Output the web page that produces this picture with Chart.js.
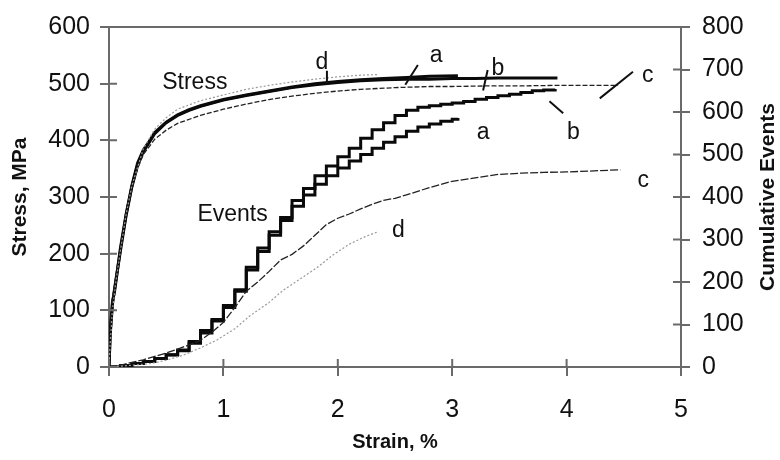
<!DOCTYPE html>
<html>
<head>
<meta charset="utf-8">
<script src="https://cdn.jsdelivr.net/npm/chart.js@4.4.1/dist/chart.umd.min.js"></script>
<style>
  html, body { margin: 0; padding: 0; background: #fff; }
  #wrap { width: 780px; height: 460px; position: relative; }
</style>
</head>
<body>
<div id="wrap"><canvas id="c" width="780" height="460"></canvas></div>
<script>
// ---------- data ----------
const xTicks = [0, 1, 2, 3, 4, 5];
const stressTicks = [0, 100, 200, 300, 400, 500, 600];
const eventTicks = [0, 100, 200, 300, 400, 500, 600, 700, 800];
const xTitle = 'Strain, %';
const yTitle = 'Stress, MPa';
const y2Title = 'Cumulative Events';

// Stress curves (left axis, MPa) vs strain (%)
const strainStressA = [0,0.01,0.03,0.05,0.1,0.15,0.2,0.25,0.3,0.35,0.4,0.5,0.6,0.7,0.8,1.0,1.2,1.4,1.6,1.8,2.0,2.2,2.4,2.6,2.8,3.05];
const stressA       = [0,60,115,135,210,270,320,360,383,398,414,432,445,454,461,472,480,487,494,500,504,507,509,511,513,514];

const strainStressB = [0,0.01,0.03,0.05,0.1,0.15,0.2,0.25,0.3,0.35,0.4,0.5,0.6,0.7,0.8,1.0,1.2,1.4,1.6,1.8,2.0,2.2,2.4,2.6,2.8,3.0,3.2,3.4,3.6,3.8,3.92];
const stressB       = [0,55,110,140,205,268,318,356,380,396,412,431,444,453,460,471,479,486,493,498,502,505,507,508,508,509,509,510,510,510,510];

const strainStressC = [0,0.01,0.03,0.06,0.1,0.15,0.2,0.25,0.3,0.4,0.5,0.6,0.8,1.0,1.2,1.4,1.6,1.8,2.0,2.2,2.5,2.8,3.0,3.3,3.6,3.9,4.2,4.45];
const stressC       = [0,70,120,160,210,270,315,350,375,402,418,430,444,455,464,472,478,483,487,490,493,495,495,496,496,497,497,497];

const strainStressD = [0,0.01,0.03,0.06,0.1,0.15,0.2,0.3,0.4,0.5,0.6,0.8,1.0,1.2,1.4,1.6,1.8,2.0,2.2,2.35];
const stressD       = [0,40,100,150,205,270,320,385,420,440,455,470,480,490,497,503,508,512,515,516];

// Cumulative events (right axis) vs strain (%)
const strainEventsA = [0,0.1,0.2,0.3,0.4,0.5,0.6,0.7,0.8,0.9,1.0,1.1,1.2,1.3,1.4,1.5,1.6,1.7,1.8,1.9,2.0,2.1,2.2,2.3,2.4,2.5,2.6,2.7,2.8,2.9,3.0,3.05];
const eventsA       = [0,3,8,13,20,28,38,56,80,108,140,178,228,272,310,345,378,405,430,450,468,485,500,515,529,542,555,565,572,578,583,586];

const strainEventsB = [0,0.1,0.2,0.3,0.4,0.5,0.6,0.7,0.8,0.9,1.0,1.1,1.2,1.3,1.4,1.5,1.6,1.7,1.8,1.9,2.0,2.1,2.2,2.3,2.4,2.5,2.6,2.7,2.8,2.9,3.0,3.1,3.2,3.3,3.4,3.5,3.6,3.7,3.8,3.9];
const eventsB       = [0,3,8,13,20,29,40,60,86,112,145,182,235,280,318,352,392,420,450,473,495,515,538,558,575,592,604,611,615,618,621,625,630,634,638,642,646,650,652,654];

const strainEventsC = [0,0.1,0.2,0.3,0.4,0.5,0.6,0.7,0.8,0.9,1.0,1.1,1.2,1.3,1.4,1.5,1.6,1.7,1.8,1.9,2.0,2.1,2.2,2.3,2.4,2.5,2.6,2.8,3.0,3.2,3.4,3.6,3.8,4.0,4.2,4.47];
const eventsC       = [0,4,11,17,25,33,42,52,63,82,105,140,178,200,225,252,265,285,310,335,350,360,372,383,392,397,405,422,437,445,453,456,458,459,461,464];

const strainEventsD = [0,0.2,0.36,0.5,0.65,0.8,0.94,1.1,1.23,1.4,1.52,1.67,1.82,1.95,2.1,2.25,2.35];
const eventsD       = [0,4,8,16,28,45,63,90,120,152,180,207,234,262,289,308,318];

// Text labels on the plot: [text, strain, stress-axis value]
const labelTexts   = ['Stress', 'Events', 'd', 'a', 'b', 'c', 'a', 'b', 'c', 'd'];
const labelStrain  = [0.75, 1.08, 1.86, 2.86, 3.40, 4.71, 3.27, 4.06, 4.67, 2.53];
const labelStress  = [502, 269, 537, 549, 526, 514, 413, 414, 329, 240];
// Leader lines: [x1, y1, x2, y2] in strain / stress units
const leaderLines = [
  [1.905, 523, 1.905, 498],
  [2.70, 533, 2.59, 498],
  [3.31, 524, 3.27, 488],
  [4.58, 521, 4.29, 474],
  [3.85, 469, 3.97, 448]
];

// ---------- helpers ----------
const pts = (xs, ys) => xs.map((x, i) => ({ x: x, y: ys[i] }));
const AXIS = '#6a6a6a';
const FONT = "'Liberation Sans', Arial, Helvetica, sans-serif";

const plotPlugin = {
  id: 'plotExtras',
  afterDraw(chart) {
    const { ctx, chartArea: a, scales } = chart;
    const xs = scales.x, yl = scales.y, yr = scales.y2;
    ctx.save();
    ctx.strokeStyle = AXIS;
    ctx.lineWidth = 2;
    // top border
    ctx.beginPath();
    ctx.moveTo(a.left, a.top);
    ctx.lineTo(a.right, a.top);
    ctx.stroke();
    // inner halves of tick marks
    ctx.beginPath();
    xTicks.forEach(v => { const p = xs.getPixelForValue(v); ctx.moveTo(p, a.bottom); ctx.lineTo(p, a.bottom - 8); });
    stressTicks.forEach(v => { const p = yl.getPixelForValue(v); ctx.moveTo(a.left, p); ctx.lineTo(a.left + 8, p); });
    eventTicks.forEach(v => { const p = yr.getPixelForValue(v); ctx.moveTo(a.right, p); ctx.lineTo(a.right - 8, p); });
    ctx.stroke();
    // leader lines
    ctx.strokeStyle = '#111';
    ctx.lineWidth = 2;
    ctx.beginPath();
    leaderLines.forEach(l => {
      ctx.moveTo(xs.getPixelForValue(l[0]), yl.getPixelForValue(l[1]));
      ctx.lineTo(xs.getPixelForValue(l[2]), yl.getPixelForValue(l[3]));
    });
    ctx.stroke();
    // labels
    ctx.fillStyle = '#111';
    ctx.font = '23px ' + FONT;
    ctx.textAlign = 'center';
    ctx.textBaseline = 'middle';
    labelTexts.forEach((t, i) => {
      ctx.fillText(t, xs.getPixelForValue(labelStrain[i]), yl.getPixelForValue(labelStress[i]));
    });
    // vertical axis titles (both read bottom-to-top)
    const midY = (a.top + a.bottom) / 2;
    ctx.font = 'bold 21px ' + FONT;
    [[yTitle, 20], [y2Title, 768]].forEach(([t, x]) => {
      ctx.save();
      ctx.translate(x, midY);
      ctx.rotate(-Math.PI / 2);
      ctx.fillText(t, 0, 0);
      ctx.restore();
    });
    ctx.restore();
  }
};

const thick = { borderColor: '#0a0a0a', borderWidth: 3, pointRadius: 0, fill: false, tension: 0 };
const tickFont = { family: FONT, size: 25 };

new Chart(document.getElementById('c'), {
  type: 'line',
  data: {
    datasets: [
      { label: 'd stress', data: pts(strainStressD, stressD), yAxisID: 'y', borderColor: '#9a9a9a', borderWidth: 1.2, borderDash: [2, 2], pointRadius: 0 },
      { label: 'd events', data: pts(strainEventsD, eventsD), yAxisID: 'y2', borderColor: '#9a9a9a', borderWidth: 1.2, borderDash: [2, 2], pointRadius: 0 },
      { label: 'c stress', data: pts(strainStressC, stressC), yAxisID: 'y', borderColor: '#222', borderWidth: 1.3, borderDash: [5, 2], pointRadius: 0 },
      { label: 'c events', data: pts(strainEventsC, eventsC), yAxisID: 'y2', borderColor: '#222', borderWidth: 1.3, borderDash: [8, 2], pointRadius: 0 },
      Object.assign({ label: 'a stress', data: pts(strainStressA, stressA), yAxisID: 'y' }, thick),
      Object.assign({ label: 'b stress', data: pts(strainStressB, stressB), yAxisID: 'y' }, thick),
      Object.assign({ label: 'a events', data: pts(strainEventsA, eventsA), yAxisID: 'y2', stepped: 'before' }, thick),
      Object.assign({ label: 'b events', data: pts(strainEventsB, eventsB), yAxisID: 'y2', stepped: 'before' }, thick)
    ]
  },
  options: {
    responsive: false,
    animation: false,
    layout: { padding: { top: 24, left: 0, right: 0, bottom: 0 } },
    plugins: { legend: { display: false }, tooltip: { enabled: false } },
    scales: {
      x: {
        type: 'linear', min: 0, max: 5,
        afterBuildTicks: s => { s.ticks = xTicks.map(v => ({ value: v })); },
        afterFit: s => { s.height = 93; },
        ticks: { color: '#111', font: tickFont, padding: 19 },
        grid: { drawOnChartArea: false, color: AXIS, lineWidth: 2, tickLength: 9 },
        border: { color: AXIS, width: 2 },
        title: { display: true, text: xTitle, color: '#111', font: { family: FONT, size: 20, weight: 'bold' }, padding: { top: 4, bottom: 6 } }
      },
      y: {
        type: 'linear', position: 'left', min: 0, max: 600,
        afterBuildTicks: s => { s.ticks = stressTicks.map(v => ({ value: v })); },
        afterFit: s => { s.width = 109; },
        ticks: { color: '#111', font: tickFont, padding: 10 },
        grid: { drawOnChartArea: false, color: AXIS, lineWidth: 2, tickLength: 9 },
        border: { color: AXIS, width: 2 }
      },
      y2: {
        type: 'linear', position: 'right', min: 0, max: 800,
        afterBuildTicks: s => { s.ticks = eventTicks.map(v => ({ value: v })); },
        afterFit: s => { s.width = 99; },
        ticks: { color: '#111', font: tickFont, padding: 12 },
        grid: { drawOnChartArea: false, color: AXIS, lineWidth: 2, tickLength: 9 },
        border: { color: AXIS, width: 2 }
      }
    }
  },
  plugins: [plotPlugin]
});
</script>
</body>
</html>
